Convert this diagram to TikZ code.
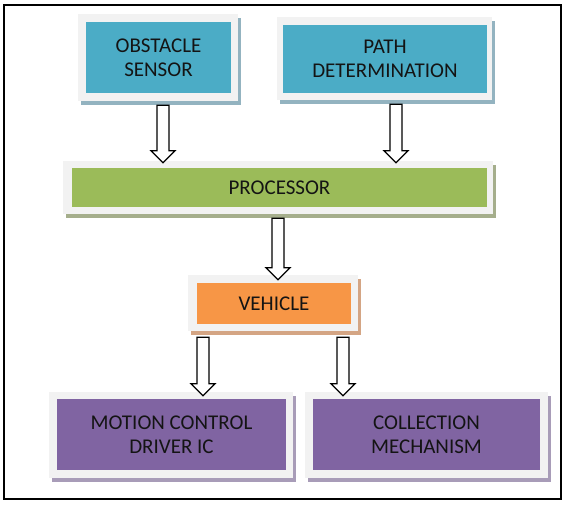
\documentclass[tikz,border=0pt]{standalone}
\usepackage{fontspec}
\setmainfont{Carlito}
\usetikzlibrary{calc,backgrounds}
\definecolor{cblue}{HTML}{4BACC6}
\definecolor{cgreen}{HTML}{9BBB59}
\definecolor{corange}{HTML}{F79646}
\definecolor{cpurple}{HTML}{8064A2}
\definecolor{sblue}{HTML}{93B3C0}
\definecolor{sgreen}{HTML}{A5AE8C}
\definecolor{sorange}{HTML}{D4A584}
\definecolor{spurple}{HTML}{A89CB8}
\definecolor{cframe}{HTML}{F2F2F2}
\definecolor{ctext}{HTML}{141414}
\tikzset{
  outerbox/.style={fill=cframe, draw=none, inner sep=0pt, minimum width=#1},
  innerbox/.style={fill=#1, draw=none, inner sep=0pt, align=center, text=ctext,
     font=\fontsize{21bp}{24bp}\selectfont},
  blockarrow/.style={draw=black, fill=white, line width=1.3bp, line join=miter},
}
\newcommand{\boxshadow}[2]{\fill[#2] ($(#1.north west)+(3,4)$) rectangle ($(#1.south east)+(3,4)$);}
\newcommand{\blockarr}[2]{%
  \path[blockarrow] let \p1=(#1), \p2=(#2) in
    (\x1-6bp,\y1) -- (\x1-6bp,\y2+12bp) -- (\x1-12bp,\y2+12bp) -- (\x1,\y2)
    -- (\x1+12bp,\y2+12bp) -- (\x1+6bp,\y2+12bp) -- (\x1+6bp,\y1) -- cycle;}
\begin{document}
\begin{tikzpicture}[x=1bp,y=-1bp]
\useasboundingbox (0,0) rectangle (567,505);

% outer frames
\node[outerbox=160bp, minimum height=87bp] (fobs) at (158,57.5) {};
\node[outerbox=215bp, minimum height=83bp] (fpath) at (384.5,58.5) {};
\node[outerbox=430bp, minimum height=53bp] (fproc) at (278,187.5) {};
\node[outerbox=170bp, minimum height=56bp] (fveh) at (273,303) {};
\node[outerbox=244bp, minimum height=86bp] (fmot) at (171,435) {};
\node[outerbox=243bp, minimum height=86bp] (fcol) at (426.5,435) {};

\begin{scope}[on background layer]
\fill[white] (0,0) rectangle (567,505);
\boxshadow{fobs}{sblue}
\boxshadow{fpath}{sblue}
\boxshadow{fproc}{sgreen}
\boxshadow{fveh}{sorange}
\boxshadow{fmot}{spurple}
\boxshadow{fcol}{spurple}
\end{scope}
\draw[line width=2bp] (4,5) rectangle (561,499);

% inner boxes
\node[innerbox=cblue, minimum width=145bp, minimum height=71bp] (obs) at (158.5,57.5) {OBSTACLE\\SENSOR};
\node[innerbox=cblue, minimum width=204bp, minimum height=68bp] (path) at (385,59) {PATH\\DETERMINATION};
\node[innerbox=cgreen, minimum width=415bp, minimum height=39bp] (proc) at (279.5,187.5) {PROCESSOR};
\node[innerbox=corange, minimum width=154bp, minimum height=41bp] (veh) at (274,303.5) {VEHICLE};
\node[innerbox=cpurple, minimum width=229bp, minimum height=71bp] (mot) at (171.5,434.5) {MOTION CONTROL\\DRIVER IC};
\node[innerbox=cpurple, minimum width=227bp, minimum height=71bp] (col) at (426.5,434.5) {COLLECTION\\MECHANISM};

% arrow anchors
\coordinate (a1s) at (fobs.south -| 163,0);
\coordinate (a1e) at (fproc.north -| 163,0);
\coordinate (a2s) at (fpath.south -| 396,0);
\coordinate (a2e) at (fproc.north -| 396,0);
\coordinate (a3s) at (fproc.south -| 278,0);
\coordinate (a3e) at (fveh.north -| 278,0);
\coordinate (a4s) at (fveh.south -| 203,0);
\coordinate (a4e) at (fmot.north -| 203,0);
\coordinate (a5s) at (fveh.south -| 343,0);
\coordinate (a5e) at (fcol.north -| 343,0);

\blockarr{$(a1s)+(0,4)$}{$(a1e)+(0,2)$}
\blockarr{$(a2s)+(0,4)$}{$(a2e)+(0,2)$}
\blockarr{$(a3s)+(0,4)$}{$(a3e)+(0,5)$}
\blockarr{$(a4s)+(0,6)$}{$(a4e)+(0,4)$}
\blockarr{$(a5s)+(0,6)$}{$(a5e)+(0,4)$}
\end{tikzpicture}
\end{document}
